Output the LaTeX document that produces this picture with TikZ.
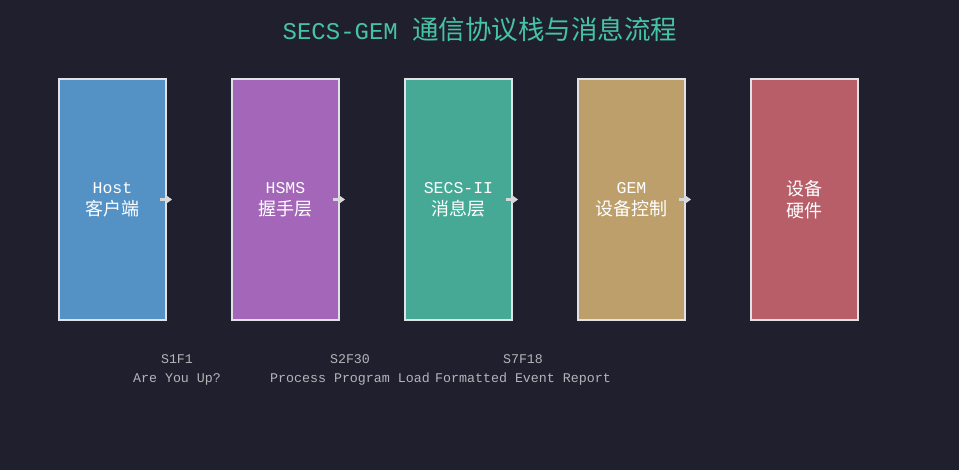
\documentclass[tikz,border=0pt]{standalone}
\usepackage{fontspec}
\setmainfont{Liberation Mono}
\newfontfamily\cjk{Noto Sans CJK SC}
\usetikzlibrary{arrows.meta,positioning}
\definecolor{bgdark}{HTML}{1F1F2E}
\definecolor{hostblue}{HTML}{5492C6}
\definecolor{hsmspurple}{HTML}{A366B8}
\definecolor{secsteal}{HTML}{45A996}
\definecolor{gemtan}{HTML}{BD9F6C}
\definecolor{hwred}{HTML}{B75E69}
\definecolor{titleteal}{HTML}{45C4A4}
\definecolor{edgegray}{HTML}{E2E2E6}
\definecolor{msggray}{HTML}{B4B4B8}
\newcommand{\zh}[2]{{\cjk\fontsize{#1}{22}\selectfont #2}}

\begin{document}
\begin{tikzpicture}[x=1pt, y=-1pt,
										layer/.style={draw=edgegray, line width=2pt, minimum width=107pt, minimum height=241pt, inner sep=0pt, align=center, text=white, font=\fontsize{16.5}{22}\selectfont},
										flow/.style={draw=edgegray!90!gray, line width=2.5pt, -{Stealth[length=7pt, width=10pt]}, shorten <=-7pt, shorten >=59pt},
										msg/.style={align=center, text=msggray, font=\fontsize{13.3}{19}\selectfont},
										node distance=64pt]

		\fill[bgdark] (0,0) rectangle (959,470);
		\useasboundingbox (0,0) rectangle (959,470);

		\node (title) at (480,29) [text=titleteal, font=\fontsize{24}{28}\selectfont] {SECS-GEM \zh{26.5}{通信协议栈与消息流程}};

		\node [layer, fill=hostblue] (host) at (112.5,199.5) {Host\\\zh{18}{客户端}};
		\node [layer, fill=hsmspurple, right=of host] (hsms) {HSMS\\\zh{18}{握手层}};
		\node [layer, fill=secsteal, right=of hsms] (secs) {SECS-II\\\zh{18}{消息层}};
		\node [layer, fill=gemtan, right=of secs] (gem) {GEM\\\zh{18}{设备控制}};
		\node [layer, fill=hwred, right=of gem] (hw) {\zh{18}{设备}\\\zh{18}{硬件}};

		\draw [flow] (host) -- (hsms);
		\draw [flow] (hsms) -- (secs);
		\draw [flow] (secs) -- (gem);
		\draw [flow] (gem) -- (hw);

		\node [msg] (msgA) at (177,370) {S1F1\\Are You Up?};
		\node [msg] (msgB) at (350,370) {S2F30\\Process Program Load};
		\node [msg] (msgC) at (523,370) {S7F18\\Formatted Event Report};

\end{tikzpicture}
\end{document}
